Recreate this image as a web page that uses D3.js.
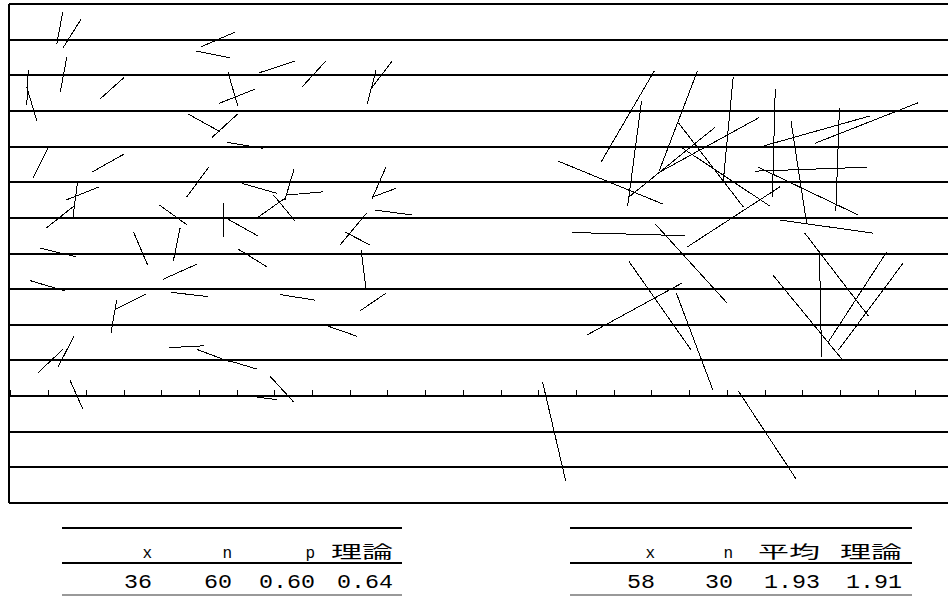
<!DOCTYPE html>
<html lang="ja">
<head>
<meta charset="UTF-8">
<title>針の実験</title>
<script src="https://d3js.org/d3.v7.min.js"></script>
<style>
  body { margin: 0; background: #fff; }
  svg { display: block; }
</style>
</head>
<body>
<svg id="chart" width="948" height="596"></svg>
<script>
// 平行線の本数と目盛り（単位 = 平行線の間隔）
const lineCount = 15;      // 0..14
const rulerLine = 11;      // 目盛りのある線
const tickStart = 0.04;
const tickStep = 1.058;

// 短い針 (L = 1)  [x1, y1, x2, y2]
const shortNeedles = [
  [1.51,0.22,1.34,1.12], [2.02,0.43,1.51,1.24], [1.62,1.50,1.44,2.46],
  [0.54,1.85,0.50,2.83], [0.50,2.34,0.78,3.27], [3.23,2.06,2.55,2.67],
  [6.34,0.79,5.39,1.20], [5.24,1.32,6.20,1.51], [8.02,1.60,7.02,1.93],
  [8.89,1.60,8.23,2.32], [10.30,1.85,10.05,2.81], [10.75,1.60,10.15,2.39],
  [6.14,1.90,6.42,2.86], [6.90,2.39,5.89,2.79], [5.03,3.09,5.92,3.58],
  [6.41,3.09,5.69,3.75], [6.11,3.88,7.14,4.05], [1.12,4.00,0.68,4.87],
  [3.23,4.21,2.32,4.72], [5.61,4.57,4.99,5.41], [8.00,4.63,7.74,5.50],
  [8.82,5.27,7.79,5.36], [7.74,5.45,6.95,6.01], [7.42,5.36,8.02,6.08],
  [6.53,5.03,7.51,5.31], [1.92,5.03,1.79,6.01], [2.53,5.13,1.60,5.50],
  [1.82,5.67,1.04,6.29], [4.22,5.64,5.00,6.20], [6.03,5.59,6.03,6.53],
  [6.15,6.04,6.99,6.51], [3.49,6.39,3.89,7.32], [4.80,6.29,4.61,7.21],
  [0.87,6.85,1.88,7.09], [6.42,6.87,7.23,7.37], [5.27,7.30,4.33,7.72],
  [0.59,7.76,1.57,8.05], [4.55,8.09,5.59,8.21], [7.60,8.15,8.59,8.31],
  [3.84,8.14,2.97,8.57], [3.02,8.31,2.86,9.24], [1.82,9.32,1.38,10.18],
  [1.51,9.69,0.81,10.35], [4.50,9.64,5.47,9.59], [5.27,9.69,6.20,10.04],
  [6.11,9.99,6.95,10.24], [7.32,10.44,7.98,11.16], [1.71,10.55,2.07,11.36],
  [6.51,10.97,7.52,11.10], [10.58,4.57,10.18,5.48], [10.86,5.17,10.22,5.41],
  [10.27,5.78,11.31,5.92], [10.04,5.86,9.29,6.76], [9.43,6.40,10.13,6.76],
  [9.88,6.90,10.02,8.02], [10.58,8.11,9.85,8.61], [8.87,9.01,9.76,9.32]
];

// 長い針 (L = 3)  [x1, y1, x2, y2]
const longNeedles = [
  [18.11,1.87,16.61,4.44], [17.75,2.71,17.36,5.66], [19.32,1.87,18.24,4.69],
  [20.32,2.04,20.04,4.99], [15.41,4.41,18.34,5.61], [19.81,3.46,17.40,5.41],
  [21.04,3.19,18.27,4.71], [18.78,3.33,20.60,5.69], [18.83,4.00,21.35,5.67],
  [21.63,5.13,19.04,6.81], [15.81,6.41,18.97,6.50], [18.13,6.17,20.14,8.38],
  [21.50,2.39,21.42,5.41], [21.94,3.28,22.38,6.15], [21.18,3.98,24.16,3.14],
  [22.61,3.91,25.51,2.77], [23.30,2.93,23.20,5.81], [20.93,4.69,24.07,4.58],
  [21.02,4.58,23.83,5.92], [21.63,6.06,24.25,6.43], [22.33,6.43,24.11,8.75],
  [22.74,7.00,22.80,9.91], [24.63,6.95,22.99,9.48], [25.08,7.28,23.27,9.71],
  [21.43,7.60,23.39,9.99], [17.40,7.23,19.14,9.71], [18.90,7.82,16.21,9.29],
  [18.72,8.10,19.75,10.83], [14.97,10.60,15.62,13.38], [20.46,10.85,22.08,13.32]
];

// 集計表
const leftHeaders = ["x", "n", "p", "理論"];
const leftValues = ["36", "60", "0.60", "0.64"];
const rightHeaders = ["x", "n", "平均", "理論"];
const rightValues = ["58", "30", "1.93", "1.91"];

const svg = d3.select("#chart");

const x = d3.scaleLinear().domain([0, 27]).range([9, 9 + 27 * 35.64]);
const y = d3.scaleLinear().domain([0, lineCount - 1]).range([4, 503]);

// 平行線
svg.append("g")
  .selectAll("line")
  .data(d3.range(lineCount))
  .join("line")
  .attr("x1", x(0)).attr("x2", x(27))
  .attr("y1", d => y(d)).attr("y2", d => y(d))
  .attr("stroke", "#000")
  .attr("stroke-width", 2)
  .attr("shape-rendering", "crispEdges");

// 左の枠線
svg.append("line")
  .attr("x1", x(0)).attr("x2", x(0))
  .attr("y1", y(0)).attr("y2", y(lineCount - 1))
  .attr("stroke", "#000")
  .attr("stroke-width", 2)
  .attr("shape-rendering", "crispEdges");

// 目盛り
const ticks = d3.range(0, 26).map(k => tickStart + k * tickStep);
svg.append("g")
  .selectAll("line")
  .data(ticks)
  .join("line")
  .attr("x1", d => Math.round(x(d)) + 0.5).attr("x2", d => Math.round(x(d)) + 0.5)
  .attr("y1", y(rulerLine)).attr("y2", y(rulerLine) - 6)
  .attr("stroke", "#000")
  .attr("stroke-width", 1)
  .attr("shape-rendering", "crispEdges");

// 針
svg.append("g")
  .selectAll("line")
  .data(shortNeedles.concat(longNeedles))
  .join("line")
  .attr("x1", d => x(d[0])).attr("y1", d => y(d[1]))
  .attr("x2", d => x(d[2])).attr("y2", d => y(d[3]))
  .attr("stroke", "#000")
  .attr("stroke-width", 1)
  .attr("shape-rendering", "crispEdges");

// 表
function isWide(s) { return /[^\x00-\x7f]/.test(s); }
function textLen(s) {
  let w = 0;
  for (const c of s) w += isWide(c) ? 31 : 14;
  return w;
}

function drawTable(left, width, colRight, headers, values) {
  const g = svg.append("g");
  g.append("line")
    .attr("x1", left).attr("x2", left + width)
    .attr("y1", 528).attr("y2", 528)
    .attr("stroke", "#000").attr("stroke-width", 2)
    .attr("shape-rendering", "crispEdges");
  g.append("line")
    .attr("x1", left).attr("x2", left + width)
    .attr("y1", 563).attr("y2", 563)
    .attr("stroke", "#000").attr("stroke-width", 2)
    .attr("shape-rendering", "crispEdges");
  g.append("line")
    .attr("x1", left).attr("x2", left + width)
    .attr("y1", 595).attr("y2", 595)
    .attr("stroke", "#999").attr("stroke-width", 2)
    .attr("shape-rendering", "crispEdges");

  g.selectAll("text.head")
    .data(headers)
    .join("text")
    .attr("class", "head")
    .attr("x", (d, i) => left + colRight[i])
    .attr("y", 558)
    .attr("text-anchor", "end")
    .attr("font-family", d => isWide(d) ? "'Noto Sans CJK JP'" : "'Liberation Mono', monospace")
    .attr("font-size", d => isWide(d) ? 17 : 16)
    .attr("textLength", d => isWide(d) ? textLen(d) : null)
    .attr("lengthAdjust", "spacingAndGlyphs")
    .text(d => d);

  g.selectAll("text.val")
    .data(values)
    .join("text")
    .attr("class", "val")
    .attr("x", (d, i) => left + colRight[i])
    .attr("y", 588)
    .attr("text-anchor", "end")
    .attr("font-family", "'Liberation Mono', monospace")
    .attr("font-size", 21)
    .attr("textLength", d => textLen(d))
    .attr("lengthAdjust", "spacingAndGlyphs")
    .text(d => d);
}

drawTable(62, 340, [90, 170, 253, 331], leftHeaders, leftValues);
drawTable(570, 342, [85, 163, 250, 332], rightHeaders, rightValues);
</script>
</body>
</html>
